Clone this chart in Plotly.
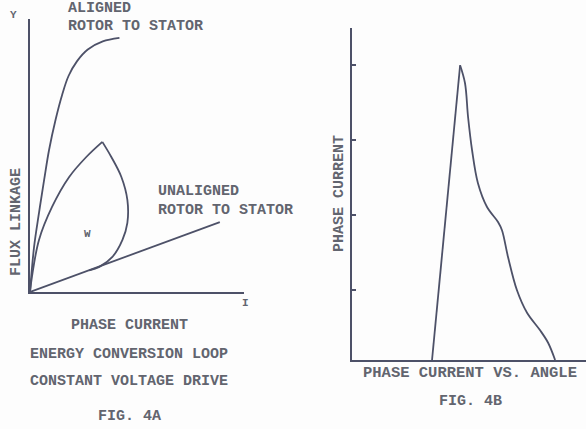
import plotly.graph_objects as go

W, H = 586, 429

# FIG. 4A  flux linkage (psi) vs phase current (I)
aligned_i = [0, 0.19, 0.42, 0.66, 0.89, 1.20, 1.50, 1.80, 2.20, 2.70, 3.40, 4.18]
aligned_psi = [0, 1.67, 2.93, 4.15, 5.26, 6.40, 7.30, 8.00, 8.55, 8.98, 9.28, 9.41]
loop_rise_i = [0, 0.09, 0.42, 1.03, 1.83, 2.63, 3.38]
loop_rise_psi = [0, 0.56, 1.93, 3.15, 4.26, 5.00, 5.56]
loop_fall_i = [3.38, 3.80, 4.27, 4.55, 4.55, 4.32, 3.85, 3.24, 2.77]
loop_fall_psi = [5.56, 5.00, 4.26, 3.41, 2.56, 1.93, 1.30, 0.93, 0.80]
unaligned_i = [0, 8.87]
unaligned_psi = [0, 2.59]

# FIG. 4B  phase current vs angle
angle = [3.42, 4.62, 4.83, 4.96, 5.13, 5.38, 5.77, 6.24, 6.41, 6.67, 7.05, 7.48, 8.03, 8.38, 8.68]
current = [0, 3.93, 3.69, 3.24, 2.80, 2.36, 2.04, 1.84, 1.73, 1.37, 0.93, 0.63, 0.40, 0.23, 0]

LINE = "#4d5168"
TEXT = "#62656f"
FONT = "Liberation Mono"
LW = 1.8

fig = go.Figure()

def add(x, y, xa, ya, shape="spline"):
    fig.add_trace(go.Scatter(x=x, y=y, mode="lines", xaxis=xa, yaxis=ya,
                             line=dict(color=LINE, width=LW, shape=shape, smoothing=1.0),
                             hoverinfo="skip", showlegend=False))

add(aligned_i, aligned_psi, "x", "y")
add(loop_rise_i, loop_rise_psi, "x", "y")
add(loop_fall_i, loop_fall_psi, "x", "y")
add(unaligned_i, unaligned_psi, "x", "y", "linear")
add(angle[:2], current[:2], "x2", "y2", "linear")
add(angle[1:], current[1:], "x2", "y2")

axis_common = dict(showline=True, linecolor=LINE, linewidth=LW, showgrid=False,
                   zeroline=False, showticklabels=False)

fig.update_layout(
    width=W, height=H,
    margin=dict(l=0, r=0, t=0, b=0),
    paper_bgcolor="#fdfdfd", plot_bgcolor="rgba(0,0,0,0)",
    xaxis=dict(domain=[30 / W, 244 / W], range=[0, 10], anchor="y", ticks="", **axis_common),
    yaxis=dict(domain=[1 - 292 / H, 1 - 19 / H], range=[0, 273 / 27], anchor="x", ticks="", **axis_common),
    xaxis2=dict(domain=[352 / W, 1], range=[0, 10], anchor="y2", ticks="", **axis_common),
    yaxis2=dict(domain=[1 - 360 / H, 1 - 28 / H], range=[0, 332 / 75], anchor="x2",
                ticks="inside", ticklen=4, tickwidth=1.5, tickcolor=LINE,
                tick0=-0.07, dtick=1, **axis_common),
)

def label(text, px, py, size=15, xanchor="center", angle=0):
    fig.add_annotation(text=text, x=px / W, y=1 - py / H, xref="paper", yref="paper",
                       showarrow=False, xanchor=xanchor, yanchor="middle", textangle=angle,
                       font=dict(family=FONT, size=size, color=TEXT, weight="bold"))

label("Y", 13, 15, size=11)
label("ALIGNED", 66, 9, xanchor="left")
label("ROTOR TO STATOR", 66, 27, xanchor="left")
label("UNALIGNED", 156, 192, xanchor="left")
label("ROTOR TO STATOR", 156, 210, xanchor="left")
label("W", 87, 234, size=11)
label("FLUX LINKAGE", 16, 222, angle=-90)
label("I", 246, 303, size=11)
label("PHASE CURRENT", 129, 325)
label("ENERGY CONVERSION LOOP", 129, 354)
label("CONSTANT VOLTAGE DRIVE", 129, 381)
label("FIG. 4A", 129, 416)
label("PHASE CURRENT", 339, 193, angle=-90)
label("PHASE CURRENT VS. ANGLE", 470, 373, size=15.5)
label("FIG. 4B", 470, 401)

fig.write_html("out.html")
